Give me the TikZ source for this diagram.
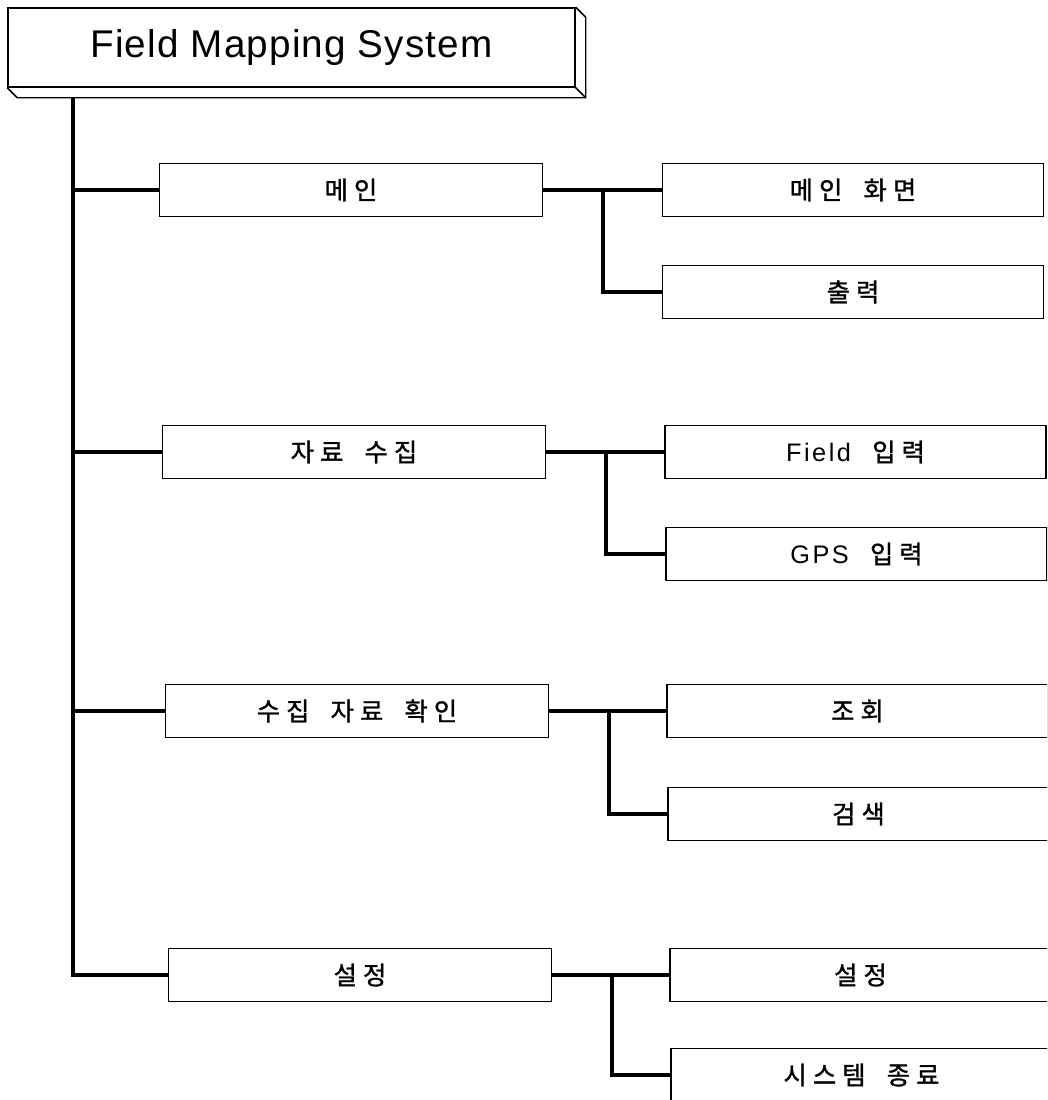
\documentclass[tikz,border=0pt]{standalone}
\usepackage{fontspec}
\setmainfont{Liberation Sans}
\newfontfamily\krfont[LetterSpace=24,FakeBold=1.2,WordSpace=1.8]{Noto Sans CJK KR}
\newfontfamily\latfont[LetterSpace=10]{Liberation Sans}
\newfontfamily\ttlfont[LetterSpace=3]{Liberation Sans}
\newcommand\krtext{\krfont\fontsize{19}{22}\selectfont}
\newcommand\lat[1]{{\latfont\fontsize{19}{22}\selectfont #1}}
\usetikzlibrary{calc}
\begin{document}
\begin{tikzpicture}[x=0.75pt,y=-0.75pt,
  lbox/.style={draw,line width=0.9pt,minimum width=287.25pt,minimum height=39.75pt,inner sep=0pt,font=\krtext},
  rbox/.style={draw,line width=0.9pt,minimum width=285.75pt,minimum height=39.75pt,inner sep=0pt,font=\krtext},
  conn/.style={line width=2.3pt},
  bconn/.style={line width=2.8pt},
  ttl/.style={draw,line width=1.1pt,minimum width=425.25pt,minimum height=59.25pt,inner sep=0pt,font=\ttlfont\fontsize{29}{32}\selectfont}
]
\clip (0,0) rectangle (1047,1100);
% title
\node[ttl] (title) at (291.5,47.5) {\raisebox{-2.5pt}{Field Mapping System}};
\draw[line width=1.1pt,line join=round] (title.north east) -- ++(10,10) -- ($(title.south east)+(10,10)$) -- ($(title.south west)+(10,10)$) -- (title.south west);
\draw[line width=1.1pt] (title.south east) -- ++(10,10);
% level 1
\node[lbox] (L1) at (351,190) {메인};
\node[lbox] (L2) at (354,452) {자료 수집};
\node[lbox] (L3) at (357,711) {수집 자료 확인};
\node[lbox] (L4) at (360,975) {설정};
% level 2
\node[rbox] (R1a) at (853,190) {메인 화면};
\node[rbox] (R1b) at (853,292) {출력};
\node[rbox] (R2a) at (855.5,452) {\lat{Field} 입력};
\node[rbox] (R2b) at (856.5,554) {\lat{GPS} 입력};
\node[rbox] (R3a) at (857.5,711) {조회};
\node[rbox] (R3b) at (858.5,814) {검색};
\node[rbox] (R4a) at (860.5,975) {설정};
\node[rbox] (R4b) at (861.5,1075) {시스템 종료};
% trunk
\coordinate (t0) at (73,97);
\draw[conn] (t0) |- (L4.west);
\draw[conn] (t0 |- L1.west) -- (L1.west);
\draw[conn] (t0 |- L2.west) -- (L2.west);
\draw[conn] (t0 |- L3.west) -- (L3.west);
% branches
\coordinate (b1) at (603,190);
\coordinate (b2) at (606,452);
\coordinate (b3) at (609,711);
\coordinate (b4) at (612,975);
\draw[conn] (L1.east) -- (b1);
\draw[bconn] (b1) -- (R1a.west);
\draw[bconn] (b1) |- (R1b.west);
\draw[conn] (L2.east) -- (b2);
\draw[bconn] (b2) -- (R2a.west);
\draw[bconn] (b2) |- (R2b.west);
\draw[conn] (L3.east) -- (b3);
\draw[bconn] (b3) -- (R3a.west);
\draw[bconn] (b3) |- (R3b.west);
\draw[conn] (L4.east) -- (b4);
\draw[bconn] (b4) -- (R4a.west);
\draw[bconn] (b4) |- (R4b.west);
\end{tikzpicture}
\end{document}
